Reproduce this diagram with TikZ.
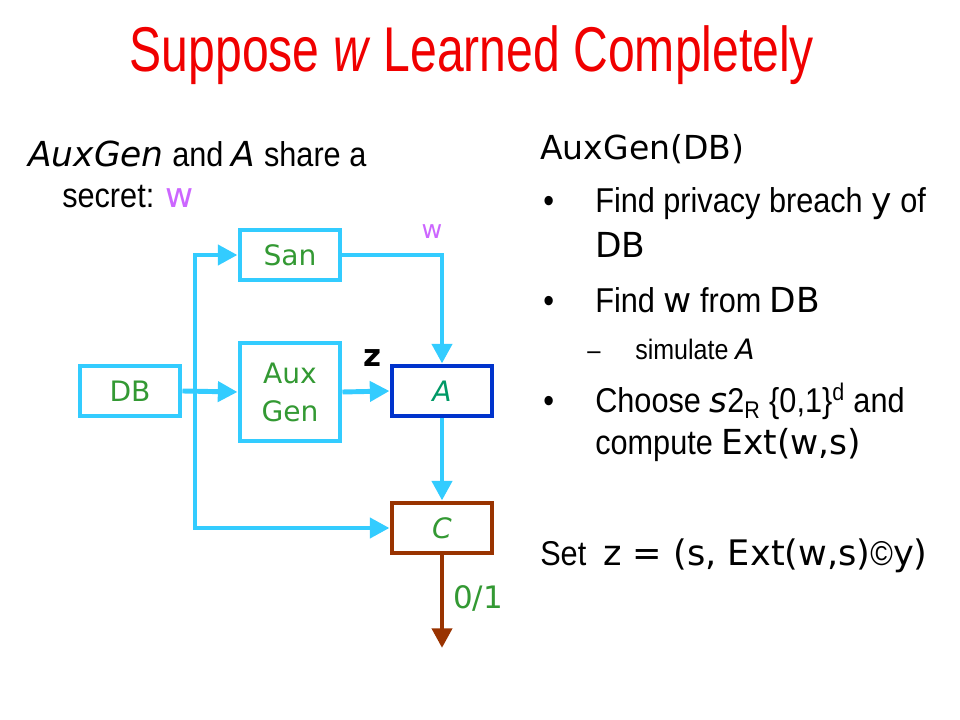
\documentclass[tikz,border=0pt]{standalone}
\usepackage{fontspec}
\setmainfont{Liberation Sans}[FakeStretch=0.89]
\newfontfamily\titlefont{Liberation Sans}[FakeStretch=0.76]
\newfontfamily\comic{DejaVu Sans}
\usetikzlibrary{arrows.meta,positioning}
\definecolor{skyline}{RGB}{51,204,255}
\definecolor{darkblue}{RGB}{0,51,204}
\definecolor{brownline}{RGB}{153,51,0}
\definecolor{labelgreen}{RGB}{51,153,51}
\definecolor{tealgreen}{RGB}{0,153,102}
\definecolor{violet}{RGB}{204,102,255}
\definecolor{titlered}{RGB}{240,0,0}
\begin{document}
\begin{tikzpicture}
  [x=0.025cm,y=-0.025cm,
   block/.style={rectangle,draw=skyline,line width=3.5pt,minimum width=2.5cm,
     minimum height=1.25cm,inner sep=0pt,font=\comic\fontsize{20}{22}\selectfont,
     text=labelgreen,align=center},
   flow/.style={draw=skyline,line width=3.5pt,-{Triangle[length=14pt,width=14pt]}},
   txt/.style={anchor=base west,inner sep=0pt,font=\fontsize{24.5}{28}\selectfont}]
\useasboundingbox (0,0) rectangle (960,720); % keep slide size
\fill[white] (0,0) rectangle (960,720);
\node at (472,72) (title) [anchor=base,inner sep=0pt,text=titlered,
  font=\titlefont\fontsize{45}{50}\selectfont] {Suppose \textit{w} Learned Completely};
%
\node at (130,391) (DB) [block] {DB};
\node at (290,255) (San) [block] {San};
\node at (290,392) (Aux) [block, minimum height=2.45cm] {Aux\\[5pt]Gen};
\node at (442,391) (A) [block, draw=darkblue, text=tealgreen] {\itshape A};
\node at (442,528) (C) [block, draw=brownline] {\itshape C};
\coordinate (split) at (195,391);
\coordinate (out) at (442,648);
%
\draw [flow] (DB.east) -- (Aux.west);
\draw [flow] (split) |- (San.west);
\draw [flow] (split) |- (C.west);
\draw [flow] (San.east) -| (A.north);
\draw [flow] (Aux.east) -- (A.west);
\draw [flow] (A.south) -- (C.north);
\draw [flow, draw=brownline] (C.south) -- (out);
%
\node at (432,232) (wlab) [text=violet,font=\comic\fontsize{18}{20}\selectfont] {w};
\node at (372,358) (zlab) [font=\comic\bfseries\fontsize{22}{24}\selectfont] {z};
\node at (478,598) (bit) [text=labelgreen,font=\comic\fontsize{22}{24}\selectfont] {0/1};
%
\node at (28,167) (share) [txt] {{\comic\itshape AuxGen} and {\comic\itshape A} share a};
\node at (62,208) (secret) [txt] {secret: {\comic\color{violet} w}};
%
\node at (540,160) (head) [txt,font=\comic\fontsize{23.5}{27}\selectfont] {AuxGen(DB)};
\node at (543,213) (b1) [txt] {\textbullet};
\node at (595,213) (t1) [txt] {Find privacy breach {\comic y} of};
\node at (595,258) (t1b) [txt] {\comic DB};
\node at (543,313) (b2) [txt] {\textbullet};
\node at (595,313) (t2) [txt] {Find {\comic w} from {\comic DB}};
\node at (587,360) (d1) [txt,font=\fontsize{19}{22}\selectfont] {--};
\node at (635,360) (t3) [txt,font=\fontsize{20}{22}\selectfont] {simulate {\comic\itshape A}};
\node at (543,413) (b3) [txt] {\textbullet};
\node at (595,413) (t4) [txt] {Choose {\comic\itshape s}2\textsubscript{R} \{0,1\}\textsuperscript{d} and};
\node at (595,455) (t4b) [txt] {compute {\comic Ext(w,s)}};
\node at (540,565) (set) [txt] {Set\ \ {\comic\fontsize{25}{28}\selectfont z = (s, Ext(w,s)}©{\comic\fontsize{25}{28}\selectfont y)}};
\end{tikzpicture}
\end{document}
